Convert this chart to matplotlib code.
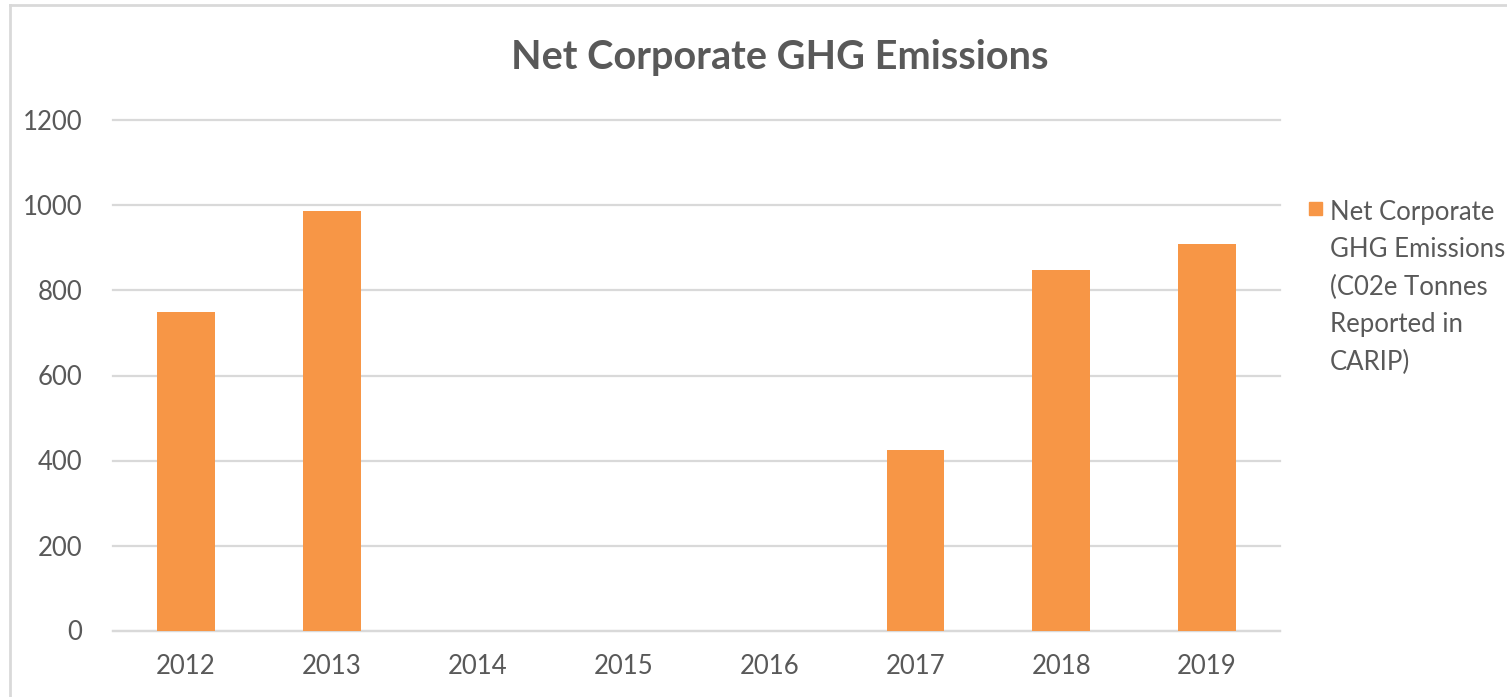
"""Net Corporate GHG Emissions bar chart (Excel-style)."""

import matplotlib.pyplot as plt
from matplotlib.lines import Line2D
from matplotlib.patches import Rectangle

years = ["2012", "2013", "2014", "2015", "2016", "2017", "2018", "2019"]
emissions = [750, 988, 0, 0, 0, 424, 848, 910]
y_ticks = [0, 200, 400, 600, 800, 1000, 1200]
title = "Net Corporate GHG Emissions"
series_label = "Net Corporate\nGHG Emissions\n(C02e Tonnes\nReported in\nCARIP)"

BAR = "#f79646"
TEXT = "#595959"
GRID = "#d9d9d9"
W, H = 1507, 697

plt.rcParams["font.family"] = ["Lato", "DejaVu Sans"]

fig = plt.figure(figsize=(W / 100, H / 100), dpi=100)
ax = fig.add_axes([113 / W, 1 - 630.5 / H, (1280 - 113) / W, (630.5 - 120.5) / H])

x = range(len(years))
ax.bar(x, emissions, width=0.395, color=BAR, zorder=3)
ax.set_xlim(-0.5, len(years) - 0.5)
ax.set_ylim(0, 1200)
ax.set_yticks(y_ticks)
ax.set_xticks(list(x))
ax.set_xticklabels(years)
ax.tick_params(axis="both", length=0, labelsize=18.5, labelcolor=TEXT)
ax.tick_params(axis="y", pad=22)
ax.tick_params(axis="x", pad=17)
ax.grid(axis="y", color=GRID, linewidth=1.6, zorder=0)
for gl in ax.get_ygridlines():
    gl.set_clip_on(False)
for side in ["top", "right", "left"]:
    ax.spines[side].set_visible(False)
ax.spines["bottom"].set_color(GRID)
ax.spines["bottom"].set_linewidth(1.6)

fig.text(780 / W, 1 - 57 / H, title, ha="center", va="center",
         fontsize=28.5, fontweight="bold", color=TEXT)

# legend drawn by hand so the square sits on the first line
fig.patches.append(Rectangle((1309 / W, 1 - 215 / H), 13 / W, 13 / H,
                             transform=fig.transFigure, color=BAR))
fig.text(1330 / W, 1 - 200 / H, series_label, ha="left", va="top",
         fontsize=18.5, color=TEXT, linespacing=1.62)

# chart frame (only the left and top edges are in view)
fig.lines.append(Line2D([10 / W, 10 / W], [0, 1 - 4.5 / H],
                        transform=fig.transFigure, color=GRID, linewidth=2))
fig.lines.append(Line2D([10 / W, 1], [1 - 4.5 / H, 1 - 4.5 / H],
                        transform=fig.transFigure, color=GRID, linewidth=2))

fig.savefig("out.png", dpi=100)
